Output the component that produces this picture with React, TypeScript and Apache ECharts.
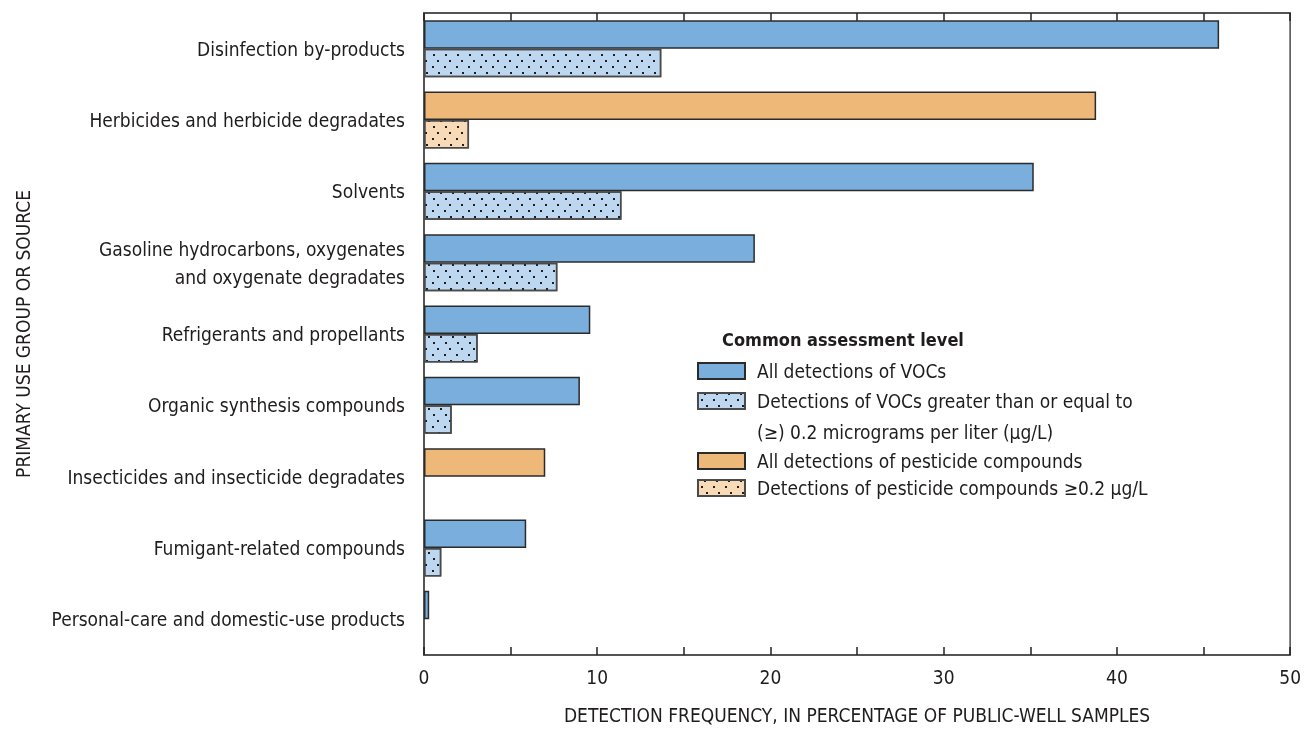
import React, { useEffect, useRef } from "react";
import * as echarts from "echarts";

const categories = [
  "Disinfection by-products",
  "Herbicides and herbicide degradates",
  "Solvents",
  "Gasoline hydrocarbons, oxygenates\nand oxygenate degradates",
  "Refrigerants and propellants",
  "Organic synthesis compounds",
  "Insecticides and insecticide degradates",
  "Fumigant-related compounds",
  "Personal-care and domestic-use products",
];
const vocAll = [45.9, null, 35.2, 19.1, 9.6, 9.0, null, 5.9, 0.3];
const vocHigh = [13.7, null, 11.4, 7.7, 3.1, 1.6, null, 1.0, null];
const pestAll = [null, 38.8, null, null, null, null, 7.0, null, null];
const pestHigh = [null, 2.6, null, null, null, null, null, null, null];
const xTicks = [0, 10, 20, 30, 40, 50];

const NAME_VA = "All detections of VOCs";
const NAME_VH = "Detections of VOCs greater than or equal to (\u2265) 0.2 micrograms per liter (\u00b5g/L)";
const NAME_PA = "All detections of pesticide compounds";
const NAME_PH = "Detections of pesticide compounds \u22650.2 \u00b5g/L";

const FONT = "'Liberation Sans Narrow', 'DejaVu Sans Condensed', 'Roboto', sans-serif";
const TXT = "#1f1c1d";
const EDGE = "#2b2b2b";

const decal = {
  symbol: "rect",
  symbolSize: 1,
  color: "#1e1e1e",
  dashArrayX: [
    [2, 10],
    [0, 6, 2, 4],
    [0, 3, 2, 7],
    [0, 8, 2, 2],
    [0, 1, 2, 9],
    [0, 5, 2, 5],
  ],
  dashArrayY: [2, 4],
};

const toData = (a: (number | null)[]) => a.map((v) => (v == null ? "-" : v));

export default function App() {
  const ref = useRef<HTMLDivElement>(null);
  useEffect(() => {
    if (!ref.current) return;
    const chart = echarts.init(ref.current, null, { renderer: "svg" });
    const xAxisBase = {
      type: "value",
      min: 0,
      max: 50,
      interval: 5,
      splitLine: { show: false },
      axisLine: { show: true, lineStyle: { color: "#4a4a4a", width: 1.5 } },
      axisTick: { show: true, inside: true, length: 8, lineStyle: { color: "#222", width: 1.5 } },
    };
    const barCommon = {
      type: "bar",
      barGap: "0%",
      barCategoryGap: "20%",
    };
    chart.setOption({
      animation: false,
      textStyle: { fontFamily: FONT },
      grid: {
        left: 424,
        right: 12,
        top: 13,
        bottom: 72,
        show: true,
        borderColor: "#4a4a4a",
        borderWidth: 1.5,
        backgroundColor: "transparent",
      },
      xAxis: [
        {
          ...xAxisBase,
          position: "bottom",
          axisLabel: {
            show: true,
            margin: 12,
            fontSize: 19,
            color: TXT,
            fontFamily: FONT,
            formatter: (v: number) => (xTicks.includes(v) ? String(v) : ""),
          },
          name: "DETECTION FREQUENCY, IN PERCENTAGE OF PUBLIC-WELL SAMPLES",
          nameLocation: "middle",
          nameGap: 50,
          nameTextStyle: { fontSize: 19, color: TXT, fontFamily: FONT },
        },
        {
          ...xAxisBase,
          position: "top",
          axisLabel: { show: false },
        },
      ],
      yAxis: {
        type: "category",
        data: categories,
        inverse: true,
        axisLine: { show: true, lineStyle: { color: "#4a4a4a", width: 1.5 } },
        axisTick: { show: false },
        axisLabel: {
          margin: 19,
          fontSize: 19,
          lineHeight: 28,
          color: TXT,
          fontFamily: FONT,
          align: "right",
        },
        name: "PRIMARY USE GROUP OR SOURCE",
        nameLocation: "middle",
        nameRotate: 90,
        nameGap: 392,
        nameTextStyle: { fontSize: 19, color: TXT, fontFamily: FONT },
      },
      legend: [
        {
          data: [NAME_VA, NAME_VH],
          orient: "vertical",
          left: 692,
          top: 356,
          itemWidth: 47,
          itemHeight: 16,
          itemGap: 10,
          icon: "rect",
          formatter: (n: string) => (n === NAME_VH ? "Detections of VOCs greater than or equal to" : n),
          textStyle: { fontSize: 19, lineHeight: 20, color: TXT, fontFamily: FONT, padding: [0, 0, 0, 7] },
        },
        {
          data: [NAME_PA, NAME_PH],
          orient: "vertical",
          left: 692,
          top: 446,
          itemWidth: 47,
          itemHeight: 16,
          itemGap: 7,
          icon: "rect",
          textStyle: { fontSize: 19, lineHeight: 20, color: TXT, fontFamily: FONT, padding: [0, 0, 0, 7] },
        },
      ],
      graphic: [
        {
          type: "text",
          left: 722,
          top: 330,
          style: {
            text: "Common assessment level",
            font: `bold 18px ${FONT}`,
            fill: TXT,
          },
        },
        {
          type: "text",
          left: 757,
          top: 422,
          style: {
            text: "(\u2265) 0.2 micrograms per liter (\u00b5g/L)",
            font: `19px ${FONT}`,
            fill: TXT,
          },
        },
      ],
      series: [
        {
          ...barCommon,
          name: NAME_VA,
          stack: "all",
          data: toData(vocAll),
          itemStyle: { color: "#79aedd", borderColor: EDGE, borderWidth: 1.5 },
        },
        {
          ...barCommon,
          name: NAME_PA,
          stack: "all",
          data: toData(pestAll),
          itemStyle: { color: "#eeb878", borderColor: EDGE, borderWidth: 1.5 },
        },
        {
          ...barCommon,
          name: NAME_VH,
          stack: "high",
          data: toData(vocHigh),
          itemStyle: { color: "#bcd7ef", borderColor: "#4a4a4a", borderWidth: 1.5, decal },
        },
        {
          ...barCommon,
          name: NAME_PH,
          stack: "high",
          data: toData(pestHigh),
          itemStyle: { color: "#f8dab6", borderColor: "#4a4a4a", borderWidth: 1.5, decal },
        },
      ],
    });
    return () => chart.dispose();
  }, []);
  return (
    <div
      ref={ref}
      style={{ position: "fixed", left: 0, top: 0, width: 1304, height: 729 }}
    />
  );
}
